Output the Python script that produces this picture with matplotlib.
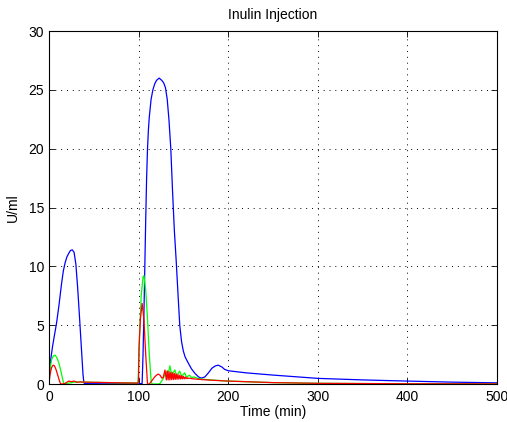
import matplotlib
matplotlib.use("Agg")
import matplotlib.pyplot as plt

# blue series
t_blue = [0, 0.5, 1, 2, 4, 6, 8.5, 11, 14, 16, 18, 20, 22, 24, 26, 28, 30, 32, 34, 36, 38, 39,
          40, 60, 80, 100, 104, 105, 106, 107, 108, 109, 110, 111, 112, 114, 116, 118, 120,
          123, 126, 128, 130, 132, 134, 136, 138, 140, 142, 144, 146, 148, 150, 152, 155,
          159, 163, 167, 170, 174, 178, 182, 186, 189, 193, 196, 200, 220,
          250, 300, 350, 400, 450, 500]
u_blue = [0, 0.8, 1.3, 2.1, 3.2, 4.1, 5.2, 6.6, 8.5, 9.6, 10.3, 10.8, 11.1, 11.35, 11.4, 11.2, 10.2, 8.2, 5.8, 3.3, 0.8, 0.1,
          0.03, 0.02, 0.02, 0.02, 0.05, 2.5, 6, 10, 14, 17.5, 20, 21.6, 22.7, 24.2, 25, 25.5, 25.8,
          26, 25.8, 25.6, 25.2, 24.2, 22.4, 20, 16.3, 13, 10.5, 7.7, 5, 3.6, 2.8, 2.3, 1.85,
          1.3, 0.9, 0.6, 0.5, 0.6, 0.95, 1.35, 1.55, 1.6, 1.45, 1.25, 1.13, 0.95,
          0.76, 0.48, 0.35, 0.25, 0.16, 0.1]

# green series
t_green = [0, 1, 3, 5, 7, 9, 11, 13, 15, 16.5, 20, 30, 40, 60, 80, 99.5, 100, 101, 103, 105,
           106, 108, 110, 112, 114, 115, 122, 124, 127, 130, 132, 133.5, 135, 137, 140.5,
           142.5, 146, 148, 151.5, 153.5, 157, 159, 162, 166, 170, 180, 200, 250, 300,
           400, 500]
u_green = [0, 1.2, 2.1, 2.4, 2.45, 2.2, 1.8, 1.2, 0.5, 0.05, 0.05, 0.18, 0.16, 0.13, 0.1, 0.08, 1.5, 4, 7.5, 9.1,
           9.2, 8, 5.5, 2.5, 0.3, 0, 0, 0.05, 0.4, 0.9, 1.1, 1.0, 1.55, 0.75, 1.2,
           0.7, 1.1, 0.65, 0.95, 0.6, 0.75, 0.55, 0.6, 0.48, 0.42, 0.35, 0.25, 0.12, 0.06,
           0.02, 0.01]

# red series
t_red = [0, 1, 2, 3, 4, 5, 6, 7, 8, 9, 10, 11, 12, 13, 15, 18, 20, 22, 25, 28, 31, 35, 40,
         60, 80, 99.5, 100, 100.5, 102, 104, 106, 108, 110, 112, 115, 118, 120, 122, 124,
         126, 127.5, 129.5, 131, 132, 133, 134, 135, 136, 137, 138, 139, 140, 141, 142,
         143, 144, 145, 146, 147, 148, 149, 150, 151, 152, 153, 154, 155, 156, 160, 170,
         180, 200, 250, 300, 400, 500]
u_red = [0, 0.7, 1.1, 1.4, 1.55, 1.6, 1.55, 1.4, 1.2, 0.95, 0.7, 0.45, 0.2, 0.02, 0, 0.05, 0.15, 0.25, 0.2, 0.25, 0.15, 0.18, 0.16,
         0.13, 0.1, 0.08, 0.5, 3, 5.5, 6.85, 5.5, 2.5, 0, 0, 0.3, 0.6, 0.75, 0.85, 0.75,
         0.5, 0.55, 1.19, 0.35, 1.1, 0.35, 1.05, 0.35, 1.0, 0.38, 0.95, 0.38, 0.9, 0.4, 0.85,
         0.4, 0.8, 0.42, 0.75, 0.42, 0.7, 0.44, 0.65, 0.44, 0.6, 0.45, 0.55, 0.46, 0.5, 0.45, 0.38,
         0.33, 0.25, 0.12, 0.06, 0.02, 0.01]

x_ticks = [0, 100, 200, 300, 400, 500]
y_ticks = [0, 5, 10, 15, 20, 25, 30]

plt.rcParams['font.family'] = ['Liberation Sans', 'DejaVu Sans']

fig = plt.figure(figsize=(5.07, 4.22), dpi=100)
ax = fig.add_axes([0.0966, 0.090, 0.8834, 0.8365])

ax.plot(t_blue, u_blue, color='#0000ff', lw=0.9)
ax.plot(t_green, u_green, color='#00ff00', lw=0.9)
ax.plot(t_red, u_red, color='#ff0000', lw=0.9)

ax.set_xlim(0, 500)
ax.set_ylim(0, 30)
ax.set_xticks(x_ticks)
ax.set_yticks(y_ticks)
ax.tick_params(direction='in', top=True, right=True, labelsize=10, length=4, width=0.6)
ax.tick_params(axis='x', pad=4)
ax.grid(True, color='black', linestyle=(0, (1, 5)), linewidth=0.7)
for s in ax.spines.values():
    s.set_linewidth(0.8)

ax.set_title('Inulin Injection', fontsize=10, pad=9)
ax.set_xlabel('Time (min)', fontsize=10, labelpad=1)
ax.set_ylabel('U/ml', fontsize=10, labelpad=6)

fig.savefig('out.png', dpi=100)
